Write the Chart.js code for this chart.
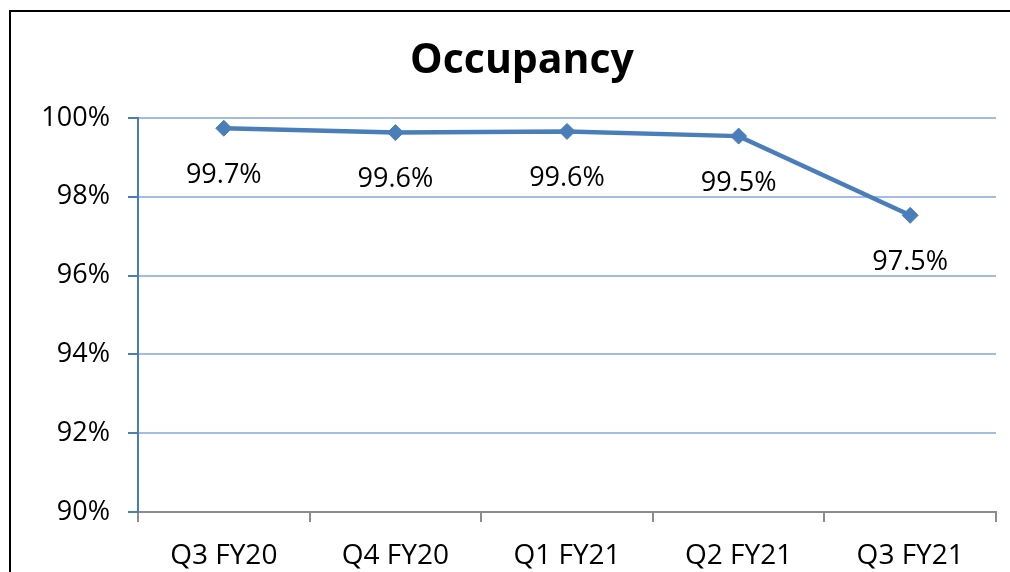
<!DOCTYPE html>
<html>
<head>
<meta charset="utf-8">
<script src="https://cdn.jsdelivr.net/npm/chart.js@4"></script>
<style>
  html, body { margin: 0; padding: 0; background: #fff; overflow: hidden; }
  #wrap { position: relative; width: 1010px; height: 572px; }
  #frame {
    position: absolute; left: 9px; top: 10px; width: 1100px; height: 700px;
    border-top: 2px solid #000; border-left: 2px solid #000; pointer-events: none;
  }
  #title {
    position: absolute; left: 0; top: 33px; width: 1044px; text-align: center;
    font: bold 41px 'Open Sans', 'DejaVu Sans', sans-serif; line-height: 49px; color: #000;
  }
  canvas { position: absolute; left: 0; top: 0; }
</style>
</head>
<body>
<div id="wrap">
  <div id="frame"></div>
  <canvas id="occupancyChart" width="1010" height="572"></canvas>
  <div id="title">Occupancy</div>
</div>
<script>
const quarters = ["Q3 FY20", "Q4 FY20", "Q1 FY21", "Q2 FY21", "Q3 FY21"];
const occupancy = [99.74, 99.63, 99.66, 99.54, 97.53];
const valueLabels = ["99.7%", "99.6%", "99.6%", "99.5%", "97.5%"];

const FONT = "'Open Sans', 'DejaVu Sans', sans-serif";

// draws the value under each point
const pointLabels = {
    id: "pointLabels",
    afterDatasetsDraw(chart) {
        const ctx = chart.ctx;
        const meta = chart.getDatasetMeta(0);
        ctx.save();
        ctx.font = "27px " + FONT;
        ctx.fillStyle = "#000";
        ctx.textAlign = "center";
        ctx.textBaseline = "middle";
        meta.data.forEach((pt, i) => {
            ctx.fillText(valueLabels[i], pt.x, pt.y + 47);
        });
        ctx.restore();
    }
};

new Chart(document.getElementById("occupancyChart"), {
    type: "line",
    data: {
        labels: quarters,
        datasets: [{
            data: occupancy,
            borderColor: "#4a7ebb",
            backgroundColor: "#4a7ebb",
            borderWidth: 4.5,
            pointStyle: "rectRot",
            pointRadius: 8,
            pointBorderWidth: 1,
            tension: 0
        }]
    },
    options: {
        responsive: false,
        animation: false,
        layout: { padding: { left: 0, right: 14, top: 118, bottom: 0 } },
        plugins: {
            legend: { display: false },
            tooltip: { enabled: false },
            title: { display: false }
        },
        scales: {
            x: {
                offset: true,
                grid: {
                    offset: true,
                    drawOnChartArea: false,
                    tickLength: 10,
                    tickColor: "#8c8c8c",
                    lineWidth: 2
                },
                border: { color: "#8c8c8c", width: 2 },
                ticks: {
                    color: "#000",
                    padding: 17,
                    font: { family: FONT, size: 28 },
                    maxRotation: 0
                },
                afterFit(scale) { scale.height = 60; }
            },
            y: {
                min: 90,
                max: 100,
                ticks: {
                    stepSize: 2,
                    color: "#000",
                    padding: 18,
                    font: { family: FONT, size: 27 },
                    callback: v => v + "%"
                },
                grid: {
                    color: "#a2bce3",
                    lineWidth: 2,
                    tickLength: 10,
                    tickColor: "#4a7ebb"
                },
                border: { color: "#4a7ebb", width: 2 },
                afterFit(scale) { scale.width = 138; }
            }
        }
    },
    plugins: [pointLabels]
});
</script>
</body>
</html>
